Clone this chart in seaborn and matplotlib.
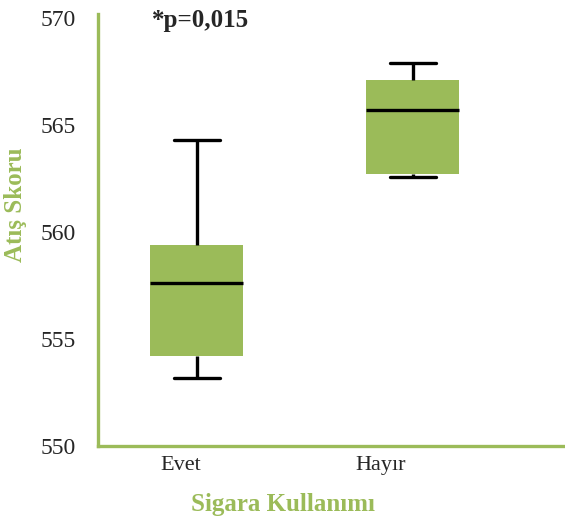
import numpy as np
import pandas as pd
import matplotlib
matplotlib.use('Agg')
import matplotlib.pyplot as plt
import seaborn as sns

# Beş sayı özeti (min, Q1, medyan, Q3, max)
kategoriler = ['Evet', 'Hayır']
evet_skor = [553.2, 554.2, 557.6, 559.4, 564.3]
hayir_skor = [562.6, 562.7, 565.7, 567.1, 567.9]
y_ticks = [550, 555, 560, 565, 570]

yesil = '#9BBB59'

df = pd.DataFrame({
    'Sigara Kullanımı': [kategoriler[0]] * len(evet_skor) + [kategoriler[1]] * len(hayir_skor),
    'Atış Skoru': evet_skor + hayir_skor,
})

sns.set_style('white')
plt.rcParams['font.family'] = ['Liberation Serif', 'DejaVu Serif']

fig = plt.figure(figsize=(5.65, 5.26), dpi=100)
ax = fig.add_axes([98 / 565, 1 - 446 / 526, 1 - 98 / 565, 432 / 526])

sns.boxplot(data=df, x='Sigara Kullanımı', y='Atış Skoru', order=kategoriler,
            whis=np.inf, width=0.43, color=yesil, saturation=1, ax=ax,
            boxprops=dict(facecolor=yesil, edgecolor=yesil, linewidth=0),
            whiskerprops=dict(color='black', linewidth=2.4),
            capprops=dict(color='black', linewidth=2.4),
            medianprops=dict(color='black', linewidth=2.4))

ax.set_xlim(-0.458, 1.705)
ax.set_ylim(550, 570.2)
ax.set_yticks(y_ticks)
ax.set_yticklabels([str(t) for t in y_ticks], fontsize=17)
# kategori etiketleri orijinalde kutuların biraz solunda duruyor
ax.set_xticks([-0.074, 0.852])
ax.set_xticklabels(kategoriler, fontsize=16)
ax.tick_params(axis='both', length=0)
ax.tick_params(axis='y', pad=16)
ax.tick_params(axis='x', pad=7)

for s in ['top', 'right']:
    ax.spines[s].set_visible(False)
for s in ['left', 'bottom']:
    ax.spines[s].set_color(yesil)
    ax.spines[s].set_linewidth(2.4)

ax.set_xlabel('Sigara Kullanımı', fontsize=18, fontweight='bold', color=yesil)
ax.set_ylabel('Atış Skoru', fontsize=18, fontweight='bold', color=yesil)
ax.xaxis.set_label_coords(0.396, -0.108)
ax.yaxis.set_label_coords(-0.152, 0.558)

ax.text(0.116, 0.985, '*p=0,015', transform=ax.transAxes, fontsize=18,
        fontweight='bold', ha='left', va='center')

fig.savefig('out.png', dpi=100)
